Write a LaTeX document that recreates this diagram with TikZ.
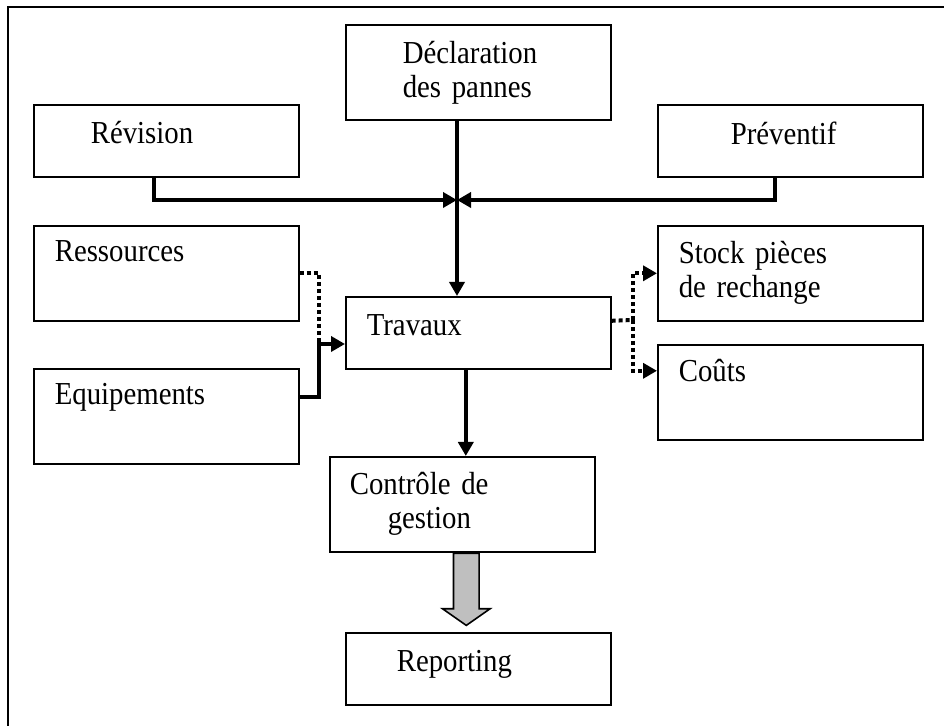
\documentclass[tikz,border=0pt]{standalone}
\usepackage{fontspec}
\setmainfont[FakeStretch=0.9]{Liberation Serif}
\usetikzlibrary{arrows.meta,shapes.arrows}

\begin{document}
\begin{tikzpicture}[x=0.5pt, y=-0.5pt,
    boite/.style={draw, line width=0.8pt, anchor=north west, minimum width=132.5pt, align=left, inner ysep=0pt, font=\fontsize{16}{17}\selectfont},
    basse/.style={boite, minimum height=36pt, text depth=8pt},
    fleche/.style={line width=2pt, -{Triangle[length=7pt,width=7.5pt]}},
    pointille/.style={line width=2pt, dash pattern=on 2pt off 1.5pt},
    pfleche/.style={pointille, -{Triangle[length=7pt,width=7.5pt]}},
    grosse/.style={single arrow, draw, line width=0.8pt, fill=gray!50, shape border rotate=270, minimum height=36pt, minimum width=23pt, inner sep=6pt, single arrow head extend=5.5pt, single arrow tip angle=110}]

  % Cadre (seulement gauche et haut)
  \useasboundingbox (0,0) rectangle (944,726);
  \draw[line width=1pt] (8,726) -- (8,7) -- (944,7);

  % Boites
  \node[boite, minimum height=47.5pt, inner xsep=28.5pt, text width=75.5pt] (decl) at (345,24) {Déclaration\\des pannes};
  \node[basse, inner xsep=28.5pt, text width=75.5pt] (rev) at (33,104) {Révision};
  \node[basse, inner xsep=36.5pt, text width=59.5pt] (prev) at (657,104) {Préventif};
  \node[boite, minimum height=47.5pt, inner xsep=10.5pt, text width=111.5pt] (ress) at (33,225) {Ressources\\\strut};
  \node[boite, minimum height=47.5pt, inner xsep=10.5pt, text width=111.5pt] (equip) at (33,368) {Equipements\\\strut};
  \node[basse, inner xsep=10.5pt, text width=111.5pt] (trav) at (345,296) {Travaux};
  \node[boite, minimum height=47.5pt, inner xsep=10.5pt, text width=111.5pt] (stock) at (657,225) {Stock pièces\\de rechange};
  \node[boite, minimum height=47.5pt, inner xsep=10.5pt, text width=111.5pt] (couts) at (657,344) {Coûts\\\strut};
  \node[boite, minimum height=47.5pt, inner xsep=10pt, text width=112.5pt] (ctrl) at (329,456) {Contrôle de\\\hspace*{19pt}gestion};
  \node[basse, inner xsep=25.5pt, text width=81.5pt] (report) at (345,632) {Reporting};

  % Fleches vers Travaux
  \coordinate (jonc) at (457,200);
  \draw[fleche] (decl.south -| jonc) -- (jonc |- trav.north);
  \draw[fleche] ([xshift=-6pt]rev.south) |- (jonc);
  \draw[fleche] ([xshift=-7.5pt]prev.south) |- (jonc);

  \coordinate (coin) at (319,344);
  \draw[pointille] (ress.east) -| (coin);
  \draw[fleche] ([yshift=9.75pt]equip.east) -| (coin) -- (coin -| trav.west);

  % Sorties de Travaux
  \coordinate (fourche) at (633,320);
  \draw[pointille] ([yshift=6pt]trav.east) -- (fourche);
  \draw[pfleche] (fourche) |- (stock.west);
  \draw[pfleche] (fourche) |- ([yshift=10.75pt]couts.west);

  \draw[fleche] ([xshift=-6.25pt]trav.south) coordinate (t) -- (t |- ctrl.north);
  \node[grosse, anchor=tail] (gfleche) at ([xshift=2pt]ctrl.south) {};
\end{tikzpicture}
\end{document}
